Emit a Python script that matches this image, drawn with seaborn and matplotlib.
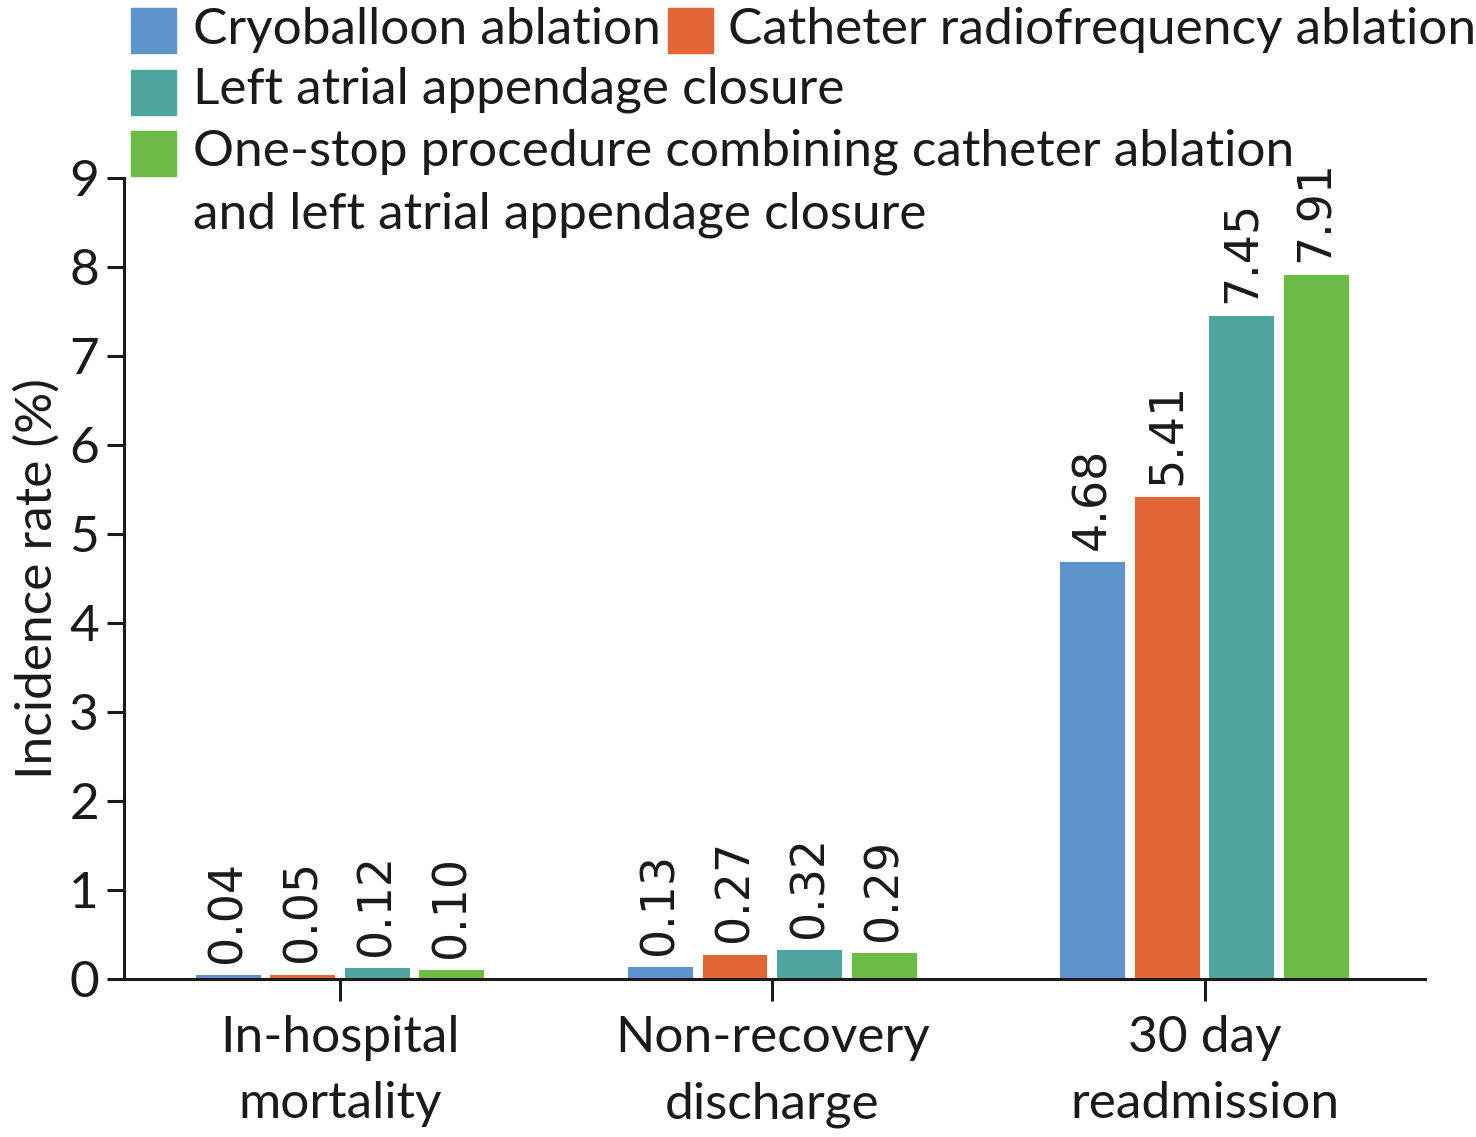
import matplotlib
matplotlib.use('Agg')
import matplotlib.pyplot as plt
import matplotlib.patches as mpatches
import pandas as pd
import seaborn as sns

# chart data
outcomes = ['In-hospital\nmortality', 'Non-recovery\ndischarge', '30 day\nreadmission']
procedures = ['Cryoballoon ablation', 'Catheter radiofrequency ablation',
              'Left atrial appendage closure',
              'One-stop procedure combining catheter ablation\nand left atrial appendage closure']
cryo = [0.04, 0.13, 4.68]
rfa = [0.05, 0.27, 5.41]
laac = [0.12, 0.32, 7.45]
onestop = [0.10, 0.29, 7.91]
colors = ['#5F93CC', '#E26535', '#4EA59E', '#6BBB45']

rows = []
for proc, vals in zip(procedures, [cryo, rfa, laac, onestop]):
    for outc, v in zip(outcomes, vals):
        rows.append({'outcome': outc, 'procedure': proc, 'rate': v})
df = pd.DataFrame(rows)

sns.set_style('ticks')
plt.rcParams['font.family'] = ['Lato', 'DejaVu Sans']

fig = plt.figure(figsize=(14.76, 11.37), dpi=100)
ax = fig.add_axes([0.084, 0.139, 0.8814, 0.7046])

sns.barplot(data=df, x='outcome', y='rate', hue='procedure', palette=colors,
            width=0.69, gap=0.13, edgecolor='none', saturation=1,
            legend=False, ax=ax)

for cont in ax.containers:
    ax.bar_label(cont, fmt='%.2f', rotation=90, padding=9,
                 fontsize=33, family='DejaVu Sans', color='#1a1a1a')

ax.set_ylim(0, 9)
ax.set_xlim(-0.5, 2.51)
ax.set_yticks(range(10))
ax.set_xlabel('')
ax.set_ylabel('Incidence rate (%)', fontsize=37, color='#1a1a1a', labelpad=6)
ax.tick_params(axis='y', labelsize=37, length=12, width=2.2, colors='#1a1a1a', pad=6)
ax.tick_params(axis='x', labelsize=37, length=16, width=2.2, colors='#1a1a1a', pad=10)
for lbl in ax.get_xticklabels():
    lbl.set_linespacing(1.55)
sns.despine(ax=ax)
for s in ['left', 'bottom']:
    ax.spines[s].set_linewidth(2.2)
    ax.spines[s].set_color('#1a1a1a')

# legend laid out like the original (square, text x, text centre y)
W, H = 1476, 1137
entries = [(131, 8, 193, 30, 0), (668, 8, 728, 30, 1),
           (131, 70, 193, 90, 2), (131, 131, 193, 152, 3)]
for sx, sy, tx, ty, i in entries:
    fig.patches.append(mpatches.Rectangle((sx / W, 1 - (sy + 45) / H), 45 / W, 45 / H,
                                          transform=fig.transFigure, color=colors[i]))
    for k, line in enumerate(procedures[i].split('\n')):
        fig.text(tx / W, 1 - (ty + 63 * k) / H, line, fontsize=37, va='center',
                 ha='left', color='#1a1a1a')

fig.savefig('out.png', dpi=100)
